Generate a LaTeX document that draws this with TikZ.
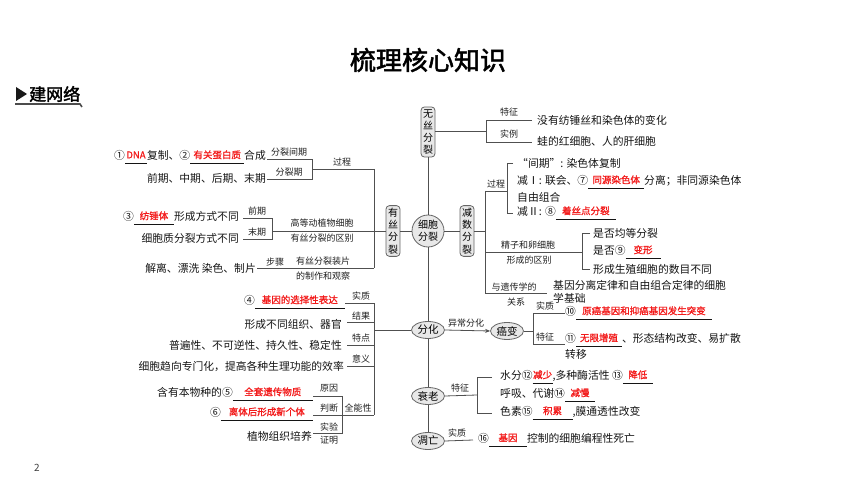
\documentclass[tikz,border=0pt]{standalone}
\usepackage{fontspec}
\setmainfont{Noto Sans CJK SC}
\newfontfamily\boldcjk[FakeBold=2]{Noto Sans CJK SC}
\newfontfamily\anscjk[FakeBold=1.2]{Noto Sans CJK SC}
\usetikzlibrary{arrows.meta,shapes.geometric}
\definecolor{lncol}{HTML}{505050}
\definecolor{boxfill}{HTML}{E8E8E8}
\definecolor{ansred}{HTML}{F21A1A}
\newcommand{\blank}[2]{\underline{\makebox[#1]{\rule[-2pt]{0pt}{2pt}\raisebox{1.2pt}{\anscjk\fontsize{9.5}{11}\selectfont\color{ansred}#2}}}}
\tikzset{
  txt/.style={inner sep=0pt, font=\fontsize{10.8}{12}\selectfont, text=black!92},
  lbl/.style={inner sep=0pt, font=\fontsize{9}{10.5}\selectfont, text=black!88},
  conn/.style={draw=lncol, line width=0.8pt},
  vbox/.style={draw=black!60, fill=boxfill, rounded corners=3.5pt, line width=0.8pt, inner xsep=2pt, inner ysep=2.5pt, align=center, text width=10pt, font=\fontsize{10}{12.2}\selectfont},
  oval/.style={draw=black!60, fill=boxfill, ellipse, line width=0.8pt, minimum width=33pt, minimum height=17pt, inner sep=0pt, font=\fontsize{10.5}{12}\selectfont},
  hub/.style={draw=black!60, fill=boxfill, circle, line width=0.8pt, minimum size=32pt, inner sep=0pt, align=center, font=\fontsize{10}{12}\selectfont}
}
\begin{document}
\begin{tikzpicture}[x=1pt,y=-1pt]
\useasboundingbox (0,0) rectangle (860,484);
% header
\node[font=\boldcjk\fontsize{26}{30}\selectfont, text=black] (title) at (428,60) {梳理核心知识};
\fill[black!90] (16,87) -- (27,94) -- (16,101) -- cycle;
\node[anchor=west, inner sep=0pt, font=\boldcjk\fontsize{17}{20}\selectfont] (hdr) at (29,94) {建网络};
\draw[black!70, line width=1.6pt] (15,104) -- (80,104) -- (82,107);
\node[font=\fontsize{10}{12}\selectfont, text=black!75] (pg) at (37,468) {2};
% hubs
\node[hub] (C) at (428,231) {细胞\\分裂};
\node[vbox] (WS) at (428,132) {无\\丝\\分\\裂};
\node[vbox] (YS) at (393,231) {有\\丝\\分\\裂};
\node[vbox] (JS) at (467,231) {减\\数\\分\\裂};
\node[oval] (FH) at (428,330) {分化};
\node[oval] (AB) at (507,331) {癌变};
\node[oval] (SL) at (428,396) {衰老};
\node[oval] (DW) at (428,441) {凋亡};
\draw[conn] (WS) -- (C);
\draw[conn] (C) -- (FH);
\draw[conn] (FH) -- (SL);
\draw[conn] (SL) -- (DW);
\draw[conn] (C) -- (YS);
\draw[conn] (C) -- (JS);
% ---- 有丝分裂
\coordinate (ysv1) at (374,169);
\coordinate (ysv2) at (374,268);
\draw[conn] (ysv1) -- (ysv2);
\draw[conn] (YS.west) -- (272,231);
\draw[conn] (312,169) -- (ysv1);
\node[lbl] (lgc1) at (342,162) {过程};
\draw[conn] (267,159) -- (312,159) -- (312,179) -- (267,179);
\node[lbl] (lfljq) at (289,152) {分裂间期};
\node[lbl] (lflq) at (289,172) {分裂期};
\node[txt, anchor=east] (t1) at (266,157) {①\blank{22pt}{DNA}复制、②\blank{54pt}{有关蛋白质}合成};
\node[txt, anchor=east] (t2) at (266,178) {前期、中期、后期、末期};
\draw[conn] (243,218) -- (272,218) -- (272,239) -- (243,239);
\node[lbl] (lqq) at (257,211) {前期};
\node[lbl] (lmq) at (257,232) {末期};
\node[lbl] (lqb1) at (322,223) {高等动植物细胞};
\node[lbl] (lqb2) at (322,238) {有丝分裂的区别};
\node[txt, anchor=east] (t3) at (239,218) {③\blank{40pt}{纺锤体}形成方式不同};
\node[txt, anchor=east] (t4) at (239,238) {细胞质分裂方式不同};
\draw[conn] (257,268) -- (ysv2);
\node[lbl] (lbz) at (275,262) {步骤};
\node[lbl] (lzp1) at (323,261) {有丝分裂装片};
\node[lbl] (lzp2) at (323,276) {的制作和观察};
\node[txt, anchor=east] (t5) at (256,268) {解离、漂洗\ 染色、制片};
% ---- 无丝分裂
\draw[conn] (WS.east |- 0,131) -- (486,131);
\draw[conn] (532,120) -- (486,120) -- (486,142) -- (532,142);
\node[lbl] (ltz1) at (509,112) {特征};
\node[lbl] (lsl) at (509,134) {实例};
\node[txt, anchor=west] (t6) at (537,120) {没有纺锤丝和染色体的变化};
\node[txt, anchor=west] (t7) at (537,141) {蛙的红细胞、人的肝细胞};
% ---- 减数分裂
\draw[conn] (JS.east) -- (485,231);
\draw[conn] (485,191) -- (485,293);
\draw[conn] (485,191) -- (507,191);
\node[lbl] (lgc2) at (496,184) {过程};
\draw[conn] (513,163) -- (507,163) -- (507,213) -- (513,213);
\node[txt, anchor=west] (t8) at (517,163) {“间期”: 染色体复制};
\node[txt, anchor=west] (t9) at (517,182) {减Ⅰ: 联会、⑦\blank{56pt}{同源染色体}分离；非同源染色体};
\node[txt, anchor=west] (t10) at (517,197) {自由组合};
\node[txt, anchor=west] (t11) at (517,213) {减Ⅱ: ⑧\blank{60pt}{着丝点分裂}};
\draw[conn] (485,252) -- (582,252);
\node[lbl] (ljz1) at (528,245) {精子和卵细胞};
\node[lbl] (ljz2) at (529,260) {形成的区别};
\draw[conn] (590,233) -- (582,233) -- (582,269) -- (590,269);
\node[txt, anchor=west] (t12) at (593,233) {是否均等分裂};
\node[txt, anchor=west] (t13) at (593,252) {是否⑨\blank{35pt}{变形}};
\node[txt, anchor=west] (t14) at (593,269) {形成生殖细胞的数目不同};
\draw[conn] (485,293) -- (547,293);
\node[lbl] (lyc1) at (514,287) {与遗传学的};
\node[lbl] (lyc2) at (516,302) {关系};
\node[txt, anchor=west] (t15) at (553,285) {基因分离定律和自由组合定律的细胞};
\node[txt, anchor=west] (t16) at (553,298) {学基础};
% ---- 癌变
\draw[conn, -{Stealth[length=5pt,width=4pt]}] (FH.east) -- (AB.west);
\node[lbl] (lyc) at (466,323) {异常分化};
\draw[conn] (AB.east) -- (533,331);
\draw[conn] (565,313) -- (533,313) -- (533,344) -- (565,344);
\node[lbl] (lsz1) at (545,306) {实质};
\node[lbl] (ltz2) at (545,337) {特征};
\node[txt, anchor=west] (t17) at (565,313) {⑩\blank{136pt}{原癌基因和抑癌基因发生突变}};
\node[txt, anchor=west] (t18) at (565,340) {⑪\blank{46pt}{无限增殖}、形态结构改变、易扩散};
\node[txt, anchor=west] (t19) at (565,354) {转移};
% ---- 分化 left
\draw[conn] (FH.west) -- (374,330);
\draw[conn] (374,303) -- (374,415);
\draw[conn] (345,303) -- (374,303);
\node[lbl] (lsz2) at (361,296) {实质};
\node[txt, anchor=east] (t20) at (345,302) {④\blank{90pt}{基因的选择性表达}};
\draw[conn] (347,322) -- (374,322);
\node[lbl] (ljg) at (361,316) {结果};
\node[txt, anchor=east] (t21) at (342,324) {形成不同组织、器官};
\draw[conn] (347,345) -- (374,345);
\node[lbl] (ltd) at (361,338) {特点};
\node[txt, anchor=east] (t22) at (342,345) {普遍性、不可逆性、持久性、稳定性};
\draw[conn] (347,366) -- (374,366);
\node[lbl] (lyy) at (361,359) {意义};
\node[txt, anchor=east] (t23) at (344,366) {细胞趋向专门化，提高各种生理功能的效率};
\draw[conn] (313,415) -- (374,415);
\node[lbl] (lqnx) at (358,408) {全能性};
\draw[conn] (313,396) -- (342,396) -- (342,433) -- (313,433);
\node[lbl] (lyy2) at (329,388) {原因};
\node[lbl] (lpd) at (329,408) {判断};
\node[lbl] (lsy) at (329,427) {实验};
\node[lbl] (lzm) at (329,440) {证明};
\node[txt, anchor=east] (t24) at (313,394) {含有本物种的⑤\blank{80pt}{全套遗传物质}};
\node[txt, anchor=east] (t25) at (313,414) {⑥\blank{92pt}{离体后形成新个体}};
\node[txt, anchor=east] (t26) at (312,436) {植物组织培养};
% ---- 衰老
\draw[conn] (SL.east) -- (477,395);
\node[lbl] (ltz3) at (460,388) {特征};
\draw[conn] (492,377) -- (477,377) -- (477,413) -- (492,413);
\node[txt, anchor=west] (t27) at (500,377) {水分⑫\blank{20pt}{减少},多种酶活性 ⑬\blank{30pt}{降低}};
\node[txt, anchor=west] (t28) at (500,395) {呼吸、代谢⑭\blank{30pt}{减慢}};
\node[txt, anchor=west] (t29) at (500,413) {色素⑮\blank{40pt}{积累},膜通透性改变};
% ---- 凋亡
\draw[conn] (DW.east) -- (473,440);
\node[lbl] (lsz3) at (457,433) {实质};
\node[txt, anchor=west] (t30) at (478,440) {⑯\blank{38pt}{基因}控制的细胞编程性死亡};
\end{tikzpicture}
\end{document}
